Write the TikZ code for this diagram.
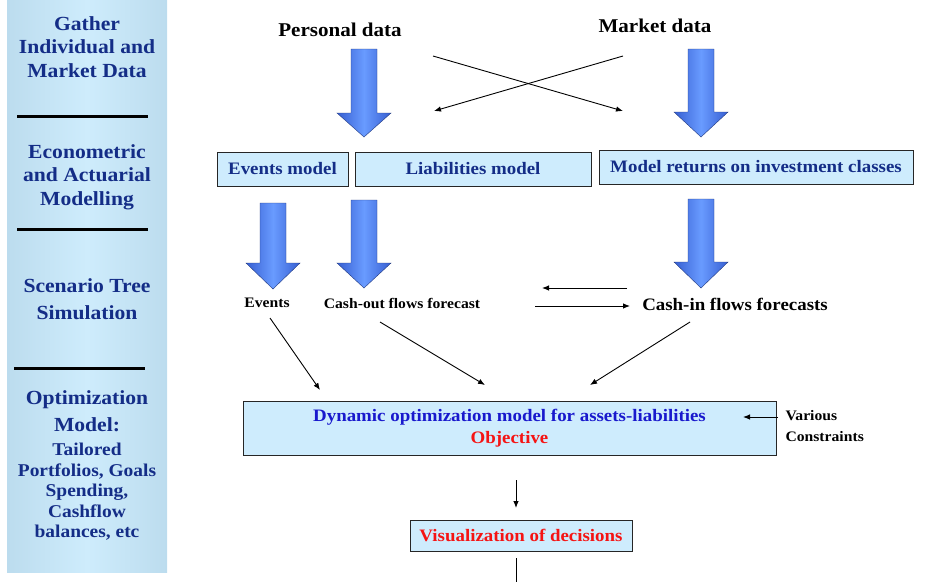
\documentclass[tikz,border=0pt]{standalone}
\usepackage{fontspec}
\setmainfont[FakeStretch=1.08]{Liberation Serif}
\usetikzlibrary{arrows.meta,calc,positioning}

\definecolor{panelblue}{RGB}{206,236,252}
\definecolor{paneledge}{RGB}{188,220,238}
\definecolor{boxblue}{RGB}{206,236,253}
\definecolor{navy}{RGB}{20,45,135}
\definecolor{deepblue}{RGB}{25,25,205}
\definecolor{mred}{RGB}{245,20,20}
\definecolor{arrowlight}{RGB}{105,155,255}
\definecolor{arrowdark}{RGB}{55,95,210}

\begin{document}
\begin{tikzpicture}[x=1pt,y=-1pt,
    every node/.style={font=\fontsize{17.5}{21}\selectfont\bfseries},
    box/.style={draw=black!85,fill=boxblue,line width=0.8pt,inner sep=0pt,text=navy},
    stage/.style={text=navy,align=center,font=\fontsize{20}{23.5}\selectfont\bfseries},
    small/.style={font=\fontsize{14.5}{21}\selectfont\bfseries},
    bigarrow/.style={left color=arrowdark,right color=arrowdark,middle color=arrowlight,draw=arrowdark!60!black,line width=0.4pt},
    thin/.style={line width=0.9pt,-{Latex[length=7pt,width=5.5pt]}}]

  \useasboundingbox (0,0) rectangle (941,582);

  % left column
  \path[left color=paneledge,right color=paneledge,middle color=panelblue] (7,0) rectangle (167,572);
  \foreach \y/\a/\b in {116/17/148,229/17/148,368/14/145}
    \draw[line width=3pt] (\a,\y) -- (\b,\y);

  \node[stage] (gather) at (87,47) {Gather\\Individual and\\Market Data};
  \node[stage] (econ) at (87,177) {Econometric\\and Actuarial\\Modelling};
  \node[stage,font=\fontsize{20}{27}\selectfont\bfseries] (scen) at (87,299) {Scenario Tree\\Simulation};
  \node[stage,font=\fontsize{20}{27}\selectfont\bfseries] (optim) at (87,411) {Optimization\\Model:};
  \node[stage,font=\fontsize{18}{20.5}\selectfont\bfseries] (tail) at (87,492) {Tailored\\Portfolios, Goals\\Spending,\\Cashflow\\balances, etc};

  % data sources
  \node[font=\fontsize{19.5}{23}\selectfont\bfseries] (personal) at (340,30) {Personal data};
  \node[font=\fontsize{19.5}{23}\selectfont\bfseries] (market) at (655,26) {Market data};

  \foreach \cx/\t/\h/\b in {364/49/113/137,701/49/112/137,273/203/263/289,364/200/263/288,701/199/262/288}
    \path[bigarrow] ({\cx-13},\t) -- ({\cx+13},\t) -- ({\cx+13},\h) -- ({\cx+27},\h)
      -- (\cx,\b) -- ({\cx-27},\h) -- ({\cx-13},\h) -- cycle;

  \coordinate (pd0) at (433,56);
  \coordinate (pd1) at (623,111);
  \coordinate (md0) at (623,56);
  \coordinate (md1) at (434,111);
  \path[thin,draw] (pd0) -- (pd1);
  \path[thin,draw] (md0) -- (md1);

  % models
  \node[box,minimum width=131pt,minimum height=34pt] (events) at (282.5,169) {Events model};
  \node[box,minimum width=236pt,minimum height=34pt] (liab) at (473,169) {Liabilities model};
  \node[box,minimum width=314pt,minimum height=34pt] (returns) at (756,167) {Model returns on investment classes};

  % forecasts
  \node[small] (ev) at (267,303) {Events};
  \node[small] (cashout) at (402,303) {Cash-out flows forecast};
  \node (cashin) at (735,304) {Cash-in flows forecasts};

  \coordinate (in0) at (627,288);
  \coordinate (in1) at (542,288);
  \coordinate (out0) at (535,306);
  \coordinate (out1) at (630,306);
  \path[thin,draw] (in0) -- (in1);
  \path[thin,draw] (out0) -- (out1);

  \coordinate (evin) at (320,390);
  \coordinate (coin) at (485,385);
  \coordinate (ciin) at (590,385);
  \path[thin,draw] (270,318) -- (evin);
  \path[thin,draw] (380,322) -- (coin);
  \path[thin,draw] (690,322) -- (ciin);

  % optimization
  \node[box,minimum width=533pt,minimum height=54pt,align=center,font=\fontsize{17.5}{22}\selectfont\bfseries] (dyn) at (509.5,428)
    {\textcolor{deepblue}{Dynamic optimization model for assets-liabilities}\\\textcolor{mred}{Objective}};
  \node[small,anchor=west,align=left] (constr) at (782,426) {Various\\Constraints};
  \coordinate (c0) at (778,417);
  \path[thin,draw] (c0) -- (743,417);

  \node[box,minimum width=222pt,minimum height=31pt,text=mred] (vis) at (521,535.5) {Visualization of decisions};
  \path[thin,draw] (516,480) -- (516,508);
  \path[draw,line width=0.9pt] (516,558) -- (516,582);
\end{tikzpicture}
\end{document}
